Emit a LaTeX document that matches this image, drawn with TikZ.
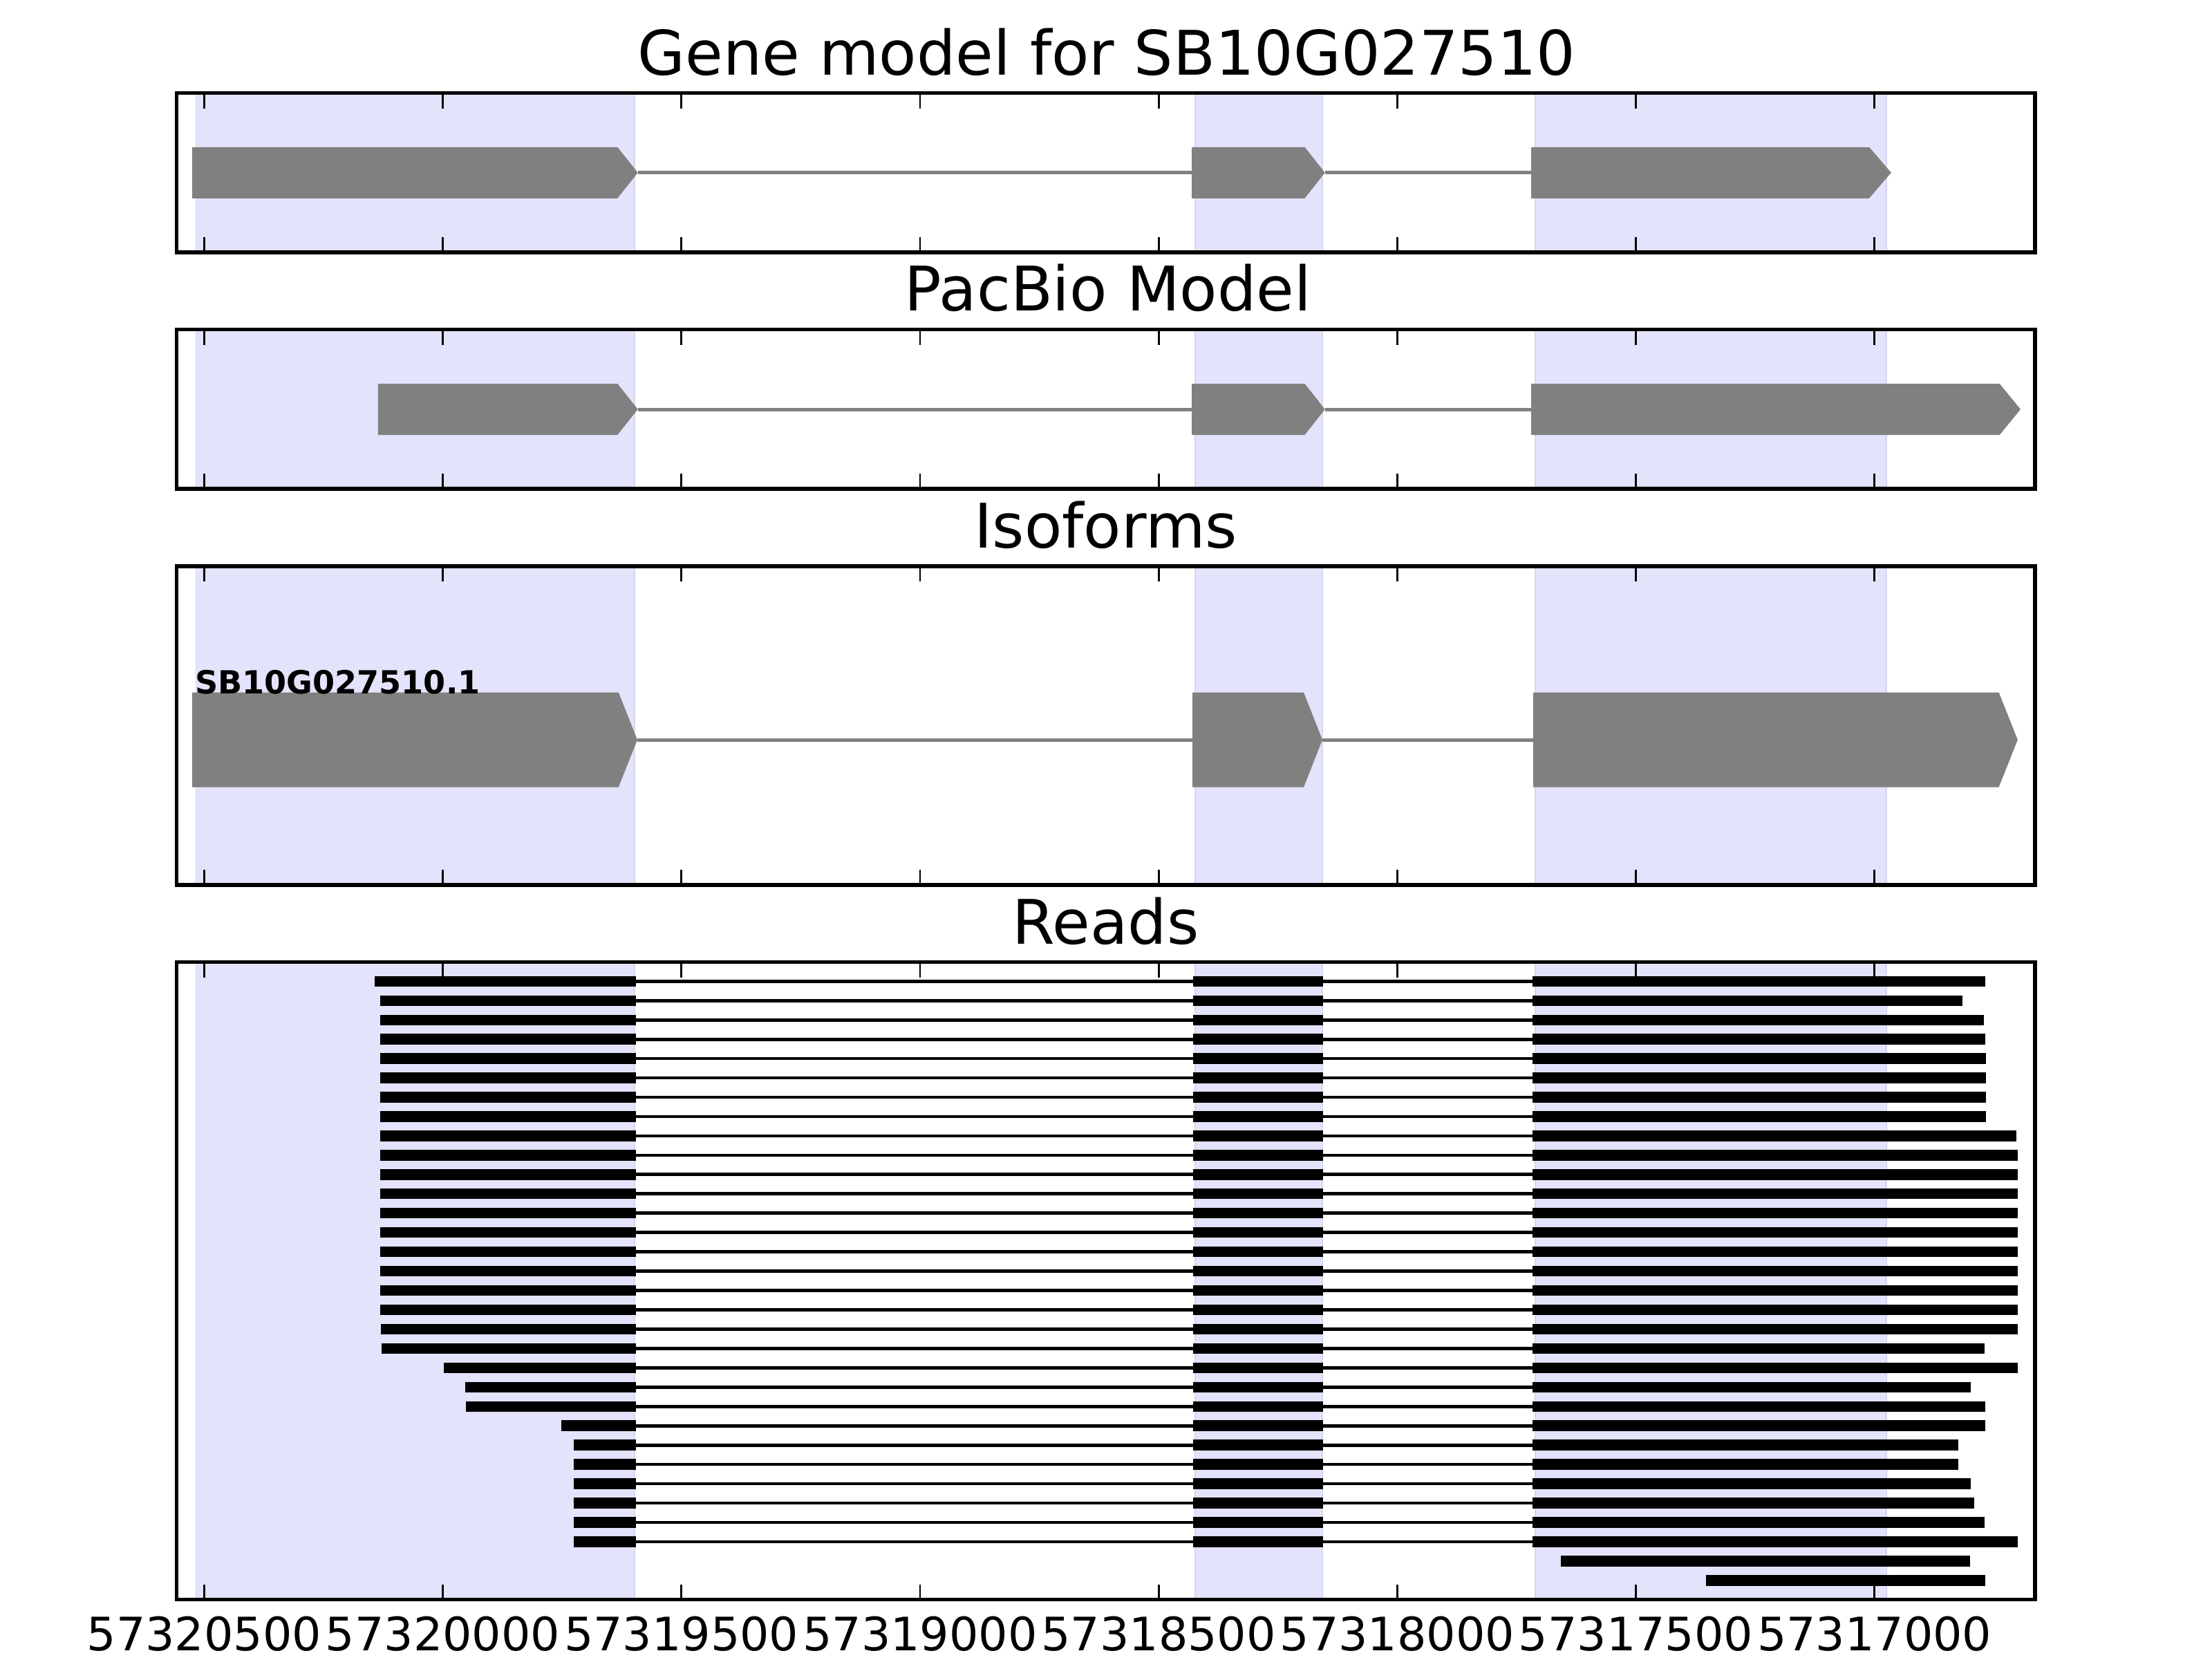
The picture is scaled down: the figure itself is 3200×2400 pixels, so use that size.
\documentclass[tikz,border=0pt]{standalone}
\usepackage{fontspec}
\setmainfont{DejaVu Sans}
\definecolor{shadefill}{RGB}{227,227,252}
\definecolor{shadeedge}{RGB}{214,214,238}
\definecolor{exongray}{RGB}{128,128,128}
\tikzset{
  spine/.style={draw=black,line width=1pt},
  tickmark/.style={draw=black,line width=0.5pt},
  shadebox/.style={fill=shadefill,draw=shadeedge,line width=0.35pt},
  exonshape/.style={fill=exongray},
  intronline/.style={draw=exongray,line width=0.9pt},
  readintron/.style={draw=black,line width=0.85pt},
  readbar/.style={fill=black},
  paneltitle/.style={anchor=base,inner sep=0pt,font=\fontsize{16}{19}\selectfont},
  ticklabel/.style={anchor=base,inner sep=0pt,font=\fontsize{12}{14}\selectfont},
  isolabel/.style={anchor=base west,inner sep=0pt,font=\bfseries\fontsize{8.3}{10}\selectfont}
}
\newcommand\exonarrow[5]{% start, flat end, tip, centre y, half height
  \fill[exonshape] (#1,#4-#5) -- (#2,#4-#5) -- (#3,#4) -- (#2,#4+#5) -- (#1,#4+#5) -- cycle;}
\begin{document}
\begin{tikzpicture}[x=0.18pt,y=-0.18pt]
\useasboundingbox (0,0) rectangle (3200,2400);
\fill[white] (0,0) rectangle (3200,2400);
% shaded exon regions in every panel
\foreach \tp/\bt in {134.5/365,476.7/707.2,818.9/1279.9,1391.6/2313.6}{
  \foreach \l/\r in {283.5/918,1729/1912.5,2220.5/2729}
    \path[shadebox] (\l,\tp) rectangle (\r,\bt);
}
% ---- Panel 1: gene model
\draw[intronline] (922.7,249.75) -- (1724,249.75);
\draw[intronline] (1916.7,249.75) -- (2215,249.75);
\exonarrow{278}{893.3}{922.7}{249.75}{37}
\exonarrow{1724}{1887.5}{1916.7}{249.75}{37}
\exonarrow{2215}{2704}{2735.8}{249.75}{37}
% ---- Panel 2: PacBio model
\draw[intronline] (922.7,592) -- (1724,592);
\draw[intronline] (1916.7,592) -- (2215,592);
\exonarrow{546.8}{893.3}{922.7}{592}{37}
\exonarrow{1724}{1887.5}{1916.7}{592}{37}
\exonarrow{2215}{2892.7}{2923}{592}{37}
% ---- Panel 3: isoforms
\draw[intronline] (922,1070) -- (1725,1070);
\draw[intronline] (1913,1070) -- (2218,1070);
\exonarrow{278}{894.8}{922}{1070}{68.5}
\exonarrow{1725}{1886}{1913}{1070}{68.5}
\exonarrow{2218}{2891.6}{2918.8}{1070}{68.5}
\node[isolabel] (iso1) at (281,1003) {SB10G027510.1};
% ---- Panel 4: reads
\foreach \st/\en [count=\i] in {542/2872,550/2839,550/2870,550/2872,550/2873,550/2873,550/2873,550/2873,550/2917,550/2919,550/2919,550/2919,550/2919,550/2919,550/2919,550/2919,550/2919,550/2919,551/2919,552/2871,642/2919,673/2851,674/2872,812/2872,830/2833,830/2833,830/2851,830/2856,830/2871,830/2919}{
  \pgfmathsetmacro\yy{1419.3+(\i-1)*27.95}
  \draw[readintron] (920.3,\yy) -- (1725.7,\yy);
  \draw[readintron] (1914.3,\yy) -- (2217,\yy);
  \fill[readbar] (\st,\yy-7.7) rectangle (920.3,\yy+7.7);
  \fill[readbar] (1725.7,\yy-7.7) rectangle (1914.3,\yy+7.7);
  \fill[readbar] (2217,\yy-7.7) rectangle (\en,\yy+7.7);
}
\fill[readbar] (2258,2257.85-7.7) rectangle (2850,2257.85+7.7);
\fill[readbar] (2468,2285.8-7.7) rectangle (2872,2285.8+7.7);
% ---- ticks and spines
\foreach \tp/\bt in {134.5/365,476.7/707.2,818.9/1279.9,1391.6/2313.6}{
  \foreach \k in {0,...,7}{
    \pgfmathsetmacro\xx{295.3+\k*345.2}
    \draw[tickmark] (\xx,\tp) -- ++(0,22);
    \draw[tickmark] (\xx,\bt) -- ++(0,-22);
  }
  \draw[spine] (255.5,\tp) rectangle (2944,\bt);
}
\foreach \k/\lab in {0/57320500,1/57320000,2/57319500,3/57319000,4/57318500,5/57318000,6/57317500,7/57317000}{
  \pgfmathsetmacro\xx{295.3+\k*345.2}
  \node[ticklabel] (tl\k) at (\xx,2387.3) {\lab};
}
% ---- titles
\node[paneltitle] (t1) at (1601,108.5) {Gene model for SB10G027510};
\node[paneltitle] (t2) at (1603,449) {PacBio Model};
\node[paneltitle] (t3) at (1599.75,792.9) {Isoforms};
\node[paneltitle] (t4) at (1599.75,1365.6) {Reads};
\end{tikzpicture}
\end{document}
